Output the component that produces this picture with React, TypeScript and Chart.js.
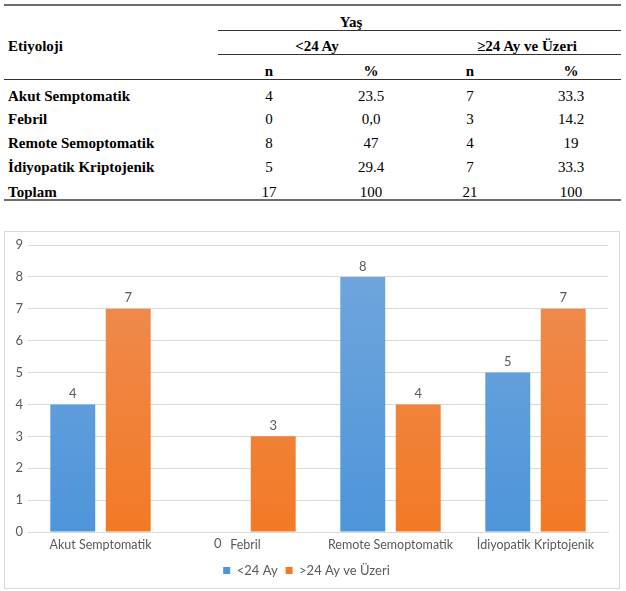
import React, { useEffect, useRef } from "react";
import { Chart, registerables } from "chart.js";

Chart.register(...registerables);

const categories = ["Akut Semptomatik", "Febril", "Remote Semoptomatik", "İdiyopatik Kriptojenik"];
const seriesNames = ["<24 Ay", ">24 Ay ve Üzeri"];
const under24 = [4, 0, 8, 5];
const over24 = [7, 3, 4, 7];
const yTicks = [0, 1, 2, 3, 4, 5, 6, 7, 8, 9];

const tableRowNames = ["Akut Semptomatik", "Febril", "Remote Semoptomatik", "İdiyopatik Kriptojenik", "Toplam"];
const tableUnder24N = ["4", "0", "8", "5", "17"];
const tableUnder24P = ["23.5", "0,0", "47", "29.4", "100"];
const tableOver24N = ["7", "3", "4", "7", "21"];
const tableOver24P = ["33.3", "14.2", "19", "33.3", "100"];

const SERIF = '"Liberation Serif", "Times New Roman", serif';
const SANS = 'Lato, "Open Sans", sans-serif';

function gradientFill(ctx: any, top: string, bottom: string) {
  const chart = ctx.chart;
  const area = chart.chartArea;
  if (!area) return bottom;
  const g = chart.ctx.createLinearGradient(0, area.top, 0, area.bottom);
  g.addColorStop(0, top);
  g.addColorStop(1, bottom);
  return g;
}

const valueLabels = {
  id: "valueLabels",
  afterDatasetsDraw(chart: any) {
    const ctx = chart.ctx;
    ctx.save();
    ctx.font = `13px ${SANS}`;
    ctx.fillStyle = "#595959";
    ctx.textAlign = "center";
    chart.data.datasets.forEach((ds: any, i: number) => {
      const meta = chart.getDatasetMeta(i);
      meta.data.forEach((bar: any, j: number) => {
        const v = ds.data[j];
        if (v === 0) {
          ctx.textBaseline = "middle";
          ctx.fillText(String(v), bar.x, chart.scales.x.top + 12);
        } else {
          ctx.textBaseline = "bottom";
          ctx.fillText(String(v), bar.x, bar.y - 4);
        }
      });
    });
    ctx.restore();
  },
};

function BarChart() {
  const ref = useRef<HTMLCanvasElement | null>(null);
  useEffect(() => {
    if (!ref.current) return;
    const chart = new Chart(ref.current, {
      type: "bar",
      data: {
        labels: categories,
        datasets: [
          {
            label: seriesNames[0],
            data: under24,
            backgroundColor: (c: any) => gradientFill(c, "#72a7dc", "#4e95da"),
            categoryPercentage: 0.765,
            barPercentage: 0.81,
          },
          {
            label: seriesNames[1],
            data: over24,
            backgroundColor: (c: any) => gradientFill(c, "#ee8d55", "#f27a25"),
            categoryPercentage: 0.765,
            barPercentage: 0.81,
          },
        ],
      },
      options: {
        animation: false,
        responsive: false,
        maintainAspectRatio: false,
        layout: { padding: { top: 13, right: 11, left: 0, bottom: 1 } },
        plugins: {
          tooltip: { enabled: false },
          legend: {
            position: "bottom",
            labels: {
              boxWidth: 7,
              boxHeight: 7,
              padding: 8,
              color: "#595959",
              font: { family: SANS, size: 13 },
            },
          },
        },
        scales: {
          x: {
            grid: { display: false, drawTicks: false },
            border: { color: "#d9d9d9" },
            ticks: { color: "#595959", font: { family: SANS, size: 12.5 }, maxRotation: 0, padding: 5 },
            afterFit: (s: any) => {
              s.height = 24;
            },
          },
          y: {
            min: 0,
            max: 9,
            afterBuildTicks: (s: any) => {
              s.ticks = yTicks.map((v) => ({ value: v }));
            },
            grid: { color: "#d9d9d9", drawTicks: false },
            border: { display: false },
            ticks: { color: "#595959", font: { family: SANS, size: 13 }, padding: 5 },
            afterFit: (s: any) => {
              s.width = 23;
            },
          },
        },
      },
      plugins: [valueLabels],
    });
    return () => chart.destroy();
  }, []);
  return <canvas ref={ref} width={614} height={356} style={{ display: "block" }} />;
}

const cell = (text: string, x: number, y: number, bold: boolean, align: "left" | "center" = "center") => (
  <div
    key={`${text}-${x}-${y}`}
    style={{
      position: "absolute",
      left: align === "center" ? x - 80 : x,
      top: y - 9,
      width: align === "center" ? 160 : 300,
      textAlign: align,
      fontFamily: SERIF,
      fontSize: 15,
      fontWeight: bold ? "bold" : "normal",
      lineHeight: "18px",
      color: "#000",
      whiteSpace: "nowrap",
    }}
  >
    {text}
  </div>
);

const hline = (x1: number, x2: number, y: number, h: number, color: string) => (
  <div
    key={`l-${y}`}
    style={{ position: "absolute", left: x1, top: y, width: x2 - x1, height: h, background: color }}
  />
);

export default function App() {
  const rowY = [96, 119, 143, 167, 192];
  const colX = [269, 371, 470, 571];
  return (
    <div style={{ position: "absolute", left: 0, top: 0, width: 626, height: 591, background: "#fff" }}>
      {hline(4, 621, 4, 2, "#6d6d6d")}
      {cell("Yaş", 351, 22, true)}
      {hline(218, 621, 30, 1, "#333")}
      {cell("Etiyoloji", 8, 46, true, "left")}
      {cell("<24 Ay", 317, 46, true)}
      {cell("≥24 Ay ve Üzeri", 527, 46, true)}
      {hline(218, 621, 54, 1, "#333")}
      {cell("n", colX[0], 71, true)}
      {cell("%", colX[1], 71, true)}
      {cell("n", colX[2], 71, true)}
      {cell("%", colX[3], 71, true)}
      {hline(4, 621, 79, 1, "#333")}
      {tableRowNames.map((name, i) => (
        <React.Fragment key={name}>
          {cell(name, 8, rowY[i], true, "left")}
          {cell(tableUnder24N[i], colX[0], rowY[i], false)}
          {cell(tableUnder24P[i], colX[1], rowY[i], false)}
          {cell(tableOver24N[i], colX[2], rowY[i], false)}
          {cell(tableOver24P[i], colX[3], rowY[i], false)}
        </React.Fragment>
      ))}
      {hline(4, 621, 199, 2, "#6d6d6d")}
      <div
        style={{
          position: "absolute",
          left: 4,
          top: 231,
          width: 614,
          height: 356,
          border: "1px solid #d9d9d9",
        }}
      >
        <BarChart />
      </div>
    </div>
  );
}
